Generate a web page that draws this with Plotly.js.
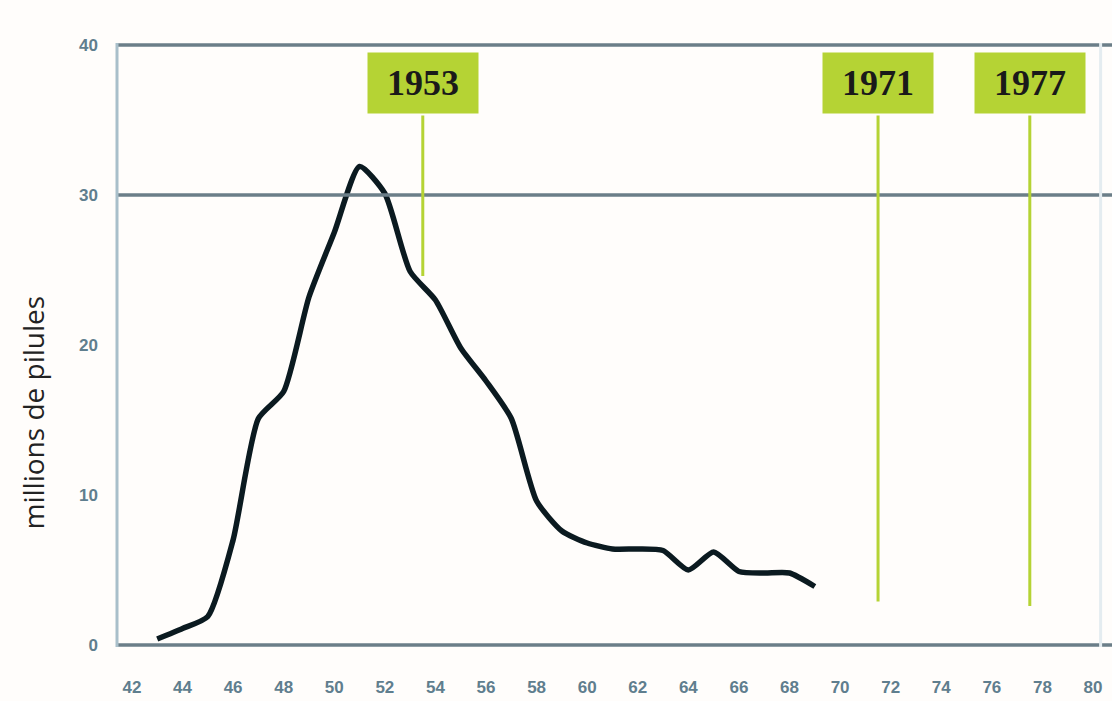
<!DOCTYPE html>
<html>
<head>
<meta charset="utf-8">
<script src="https://cdn.plot.ly/plotly-3.0.1.min.js"></script>
<style>
html,body{margin:0;padding:0;background:#fffdfb;}
#chart{width:1112px;height:701px;}
</style>
</head>
<body>
<div id="chart"></div>
<script>
// Data (years as two-digit 19xx values)
const years = [43,44,45,46,47,48,49,50,51,52,53,54,55,56,57,58,59,60,61,62,63,64,65,66,67,68,69];
const pills = [0.4,1.1,1.9,7.0,15.1,16.9,23.2,27.5,31.9,30.1,24.9,23.0,19.8,17.6,15.1,9.6,7.6,6.8,6.4,6.4,6.3,5.0,6.2,4.9,4.8,4.8,3.9];
const xTickVals = [42,44,46,48,50,52,54,56,58,60,62,64,66,68,70,72,74,76,78,80];
const xTickText = ["42","44","46","48","50","52","54","56","58","60","62","64","66","68","70","72","74","76","78","80"];
const yTickVals = [0,10,20,30,40];
const yTickText = ["0","10","20","30","40"];
const eventLabels = ["1953","1971","1977"];
const eventYears = [53,71,77];
const eventLineBottom = [24.6,2.9,2.6];

const GREEN = "#b5d334";
const midYear = 0.5; // markers are drawn at mid-year

const shapes = [];
// horizontal rules
[0,30,40].forEach(v=>{
  shapes.push({type:"line",xref:"paper",yref:"y",x0:0,x1:1,y0:v,y1:v,
    line:{color:"#6b7e88",width:3.5},layer:"above"});
});
// left axis line
shapes.push({type:"line",xref:"paper",yref:"paper",x0:0,x1:0,y0:0,y1:1,
  line:{color:"#a9bfca",width:3}});
// faint right border
shapes.push({type:"line",xref:"x",yref:"paper",x0:80.3,x1:80.3,y0:0,y1:1,
  line:{color:"#e4ecf0",width:3}});

const annotations = [];
eventYears.forEach((yr,i)=>{
  shapes.push({type:"line",xref:"x",yref:"y",x0:yr+midYear,x1:yr+midYear,
    y0:eventLineBottom[i],y1:35.3,line:{color:GREEN,width:3}});
  annotations.push({xref:"x",yref:"y",x:yr+midYear,y:37.5,text:eventLabels[i],
    showarrow:false,bgcolor:GREEN,width:108,height:58,
    font:{family:"Liberation Serif, DejaVu Serif, serif",size:36,weight:"bold",color:"#1a1a1a"}});
});
annotations.push({xref:"paper",yref:"paper",x:(33-117)/995,y:(645-412)/600,
  text:"millions de pilules",textangle:-90,showarrow:false,xanchor:"center",yanchor:"middle",
  font:{family:"Open Sans, sans-serif",size:28,color:"#222"}});

const trace = {
  x: years, y: pills, type:"scatter", mode:"lines",
  line:{color:"#0b1a20",width:5.5,shape:"spline",smoothing:0.6},
  hoverinfo:"skip"
};

const layout = {
  width:1112,height:701,
  margin:{l:117,r:0,t:43,b:54},
  paper_bgcolor:"#fffdfb",plot_bgcolor:"#fffdfb",
  showlegend:false,
  xaxis:{range:[41.41,80.75],tickvals:xTickVals,ticktext:xTickText,
    showgrid:false,zeroline:false,showline:false,ticks:"",
    ticklabelstandoff:28,
    tickfont:{family:"Liberation Sans, Arial, sans-serif",size:17,weight:"bold",color:"#5f7e8e"}},
  yaxis:{range:[-0.133,40.133],tickvals:yTickVals,ticktext:yTickText,
    showgrid:false,zeroline:false,showline:false,ticks:"",
    ticklabelstandoff:18,
    tickfont:{family:"Liberation Sans, Arial, sans-serif",size:17,weight:"bold",color:"#5f7e8e"}},
  shapes:shapes,
  annotations:annotations
};

Plotly.newPlot("chart",[trace],layout,{displayModeBar:false,staticPlot:true});
</script>
</body>
</html>
